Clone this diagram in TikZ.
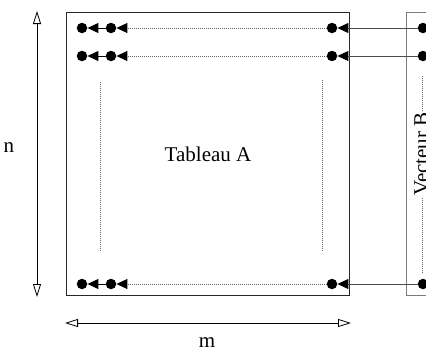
\documentclass[tikz,border=0pt]{standalone}
\usepackage{fontspec}
\setmainfont{Liberation Serif}
\usetikzlibrary{arrows.meta}
\definecolor{bordergray}{HTML}{7A7A7A}
\definecolor{dotgray}{HTML}{666666}
\begin{document}
\begin{tikzpicture}[x=1pt,y=-1pt,
  dotnode/.style={circle,fill=black,inner sep=0pt,minimum size=10.5pt},
  ptr/.style={line width=1pt,-{Triangle[length=11pt,width=10pt,color=black]}},
  dotline/.style={dotgray,line width=1pt,dash pattern=on 1pt off 1pt},
  linkline/.style={draw=black!70},
  lbl/.style={font=\fontsize{21}{25}\selectfont,inner sep=1pt},
  dimarrow/.style={line width=0.8pt,{Triangle[open,length=13pt,width=8pt]}-{Triangle[open,length=13pt,width=8pt]}},
  boxA/.style={draw=black!85,line width=0.9pt},
  boxB/.style={draw=bordergray,line width=1pt}
]
\useasboundingbox (0,0) rectangle (426,354);
\clip (0,0) rectangle (426,354);

% boxes
\draw[boxA] (66,12) rectangle (349,295);
\draw[boxB] (406,12) rectangle (440,295);

% inner dotted columns
\draw[dotline] (100,82) -- (100,252);
\draw[dotline] (322,80) -- (322,252);
\draw[dotline] (422,76) -- (422,274);

% rows
\foreach \y/\i in {28/1,56/2,284/3} {
  \node[dotnode] (p\i) at (82,\y) {};
  \node[dotnode] (q\i) at (111,\y) {};
  \node[dotnode] (r\i) at (332,\y) {};
  \node[dotnode] (b\i) at (423,\y) {};
  \draw[ptr] (q\i) -- (p\i);
  \draw[ptr,dotline] (r\i) -- (q\i);
  \draw[ptr,linkline] (b\i) -- (r\i);
}

% labels
\node[lbl] (ta) at (208,154) {Tableau A};
\node[lbl,rotate=90,fill=white,anchor=base] (vb) at (428,154) {Vecteur B};

% dimension arrows
\coordinate (nt) at (37,11);
\coordinate (nb) at (37,297);
\draw[dimarrow] (nt) -- (nb);
\node[lbl] (nl) at (9,148) {n};
\coordinate (ml) at (65,323);
\coordinate (mr) at (351,323);
\draw[dimarrow] (ml) -- (mr);
\node[lbl] (mlbl) at (207,343) {m};
\end{tikzpicture}
\end{document}
